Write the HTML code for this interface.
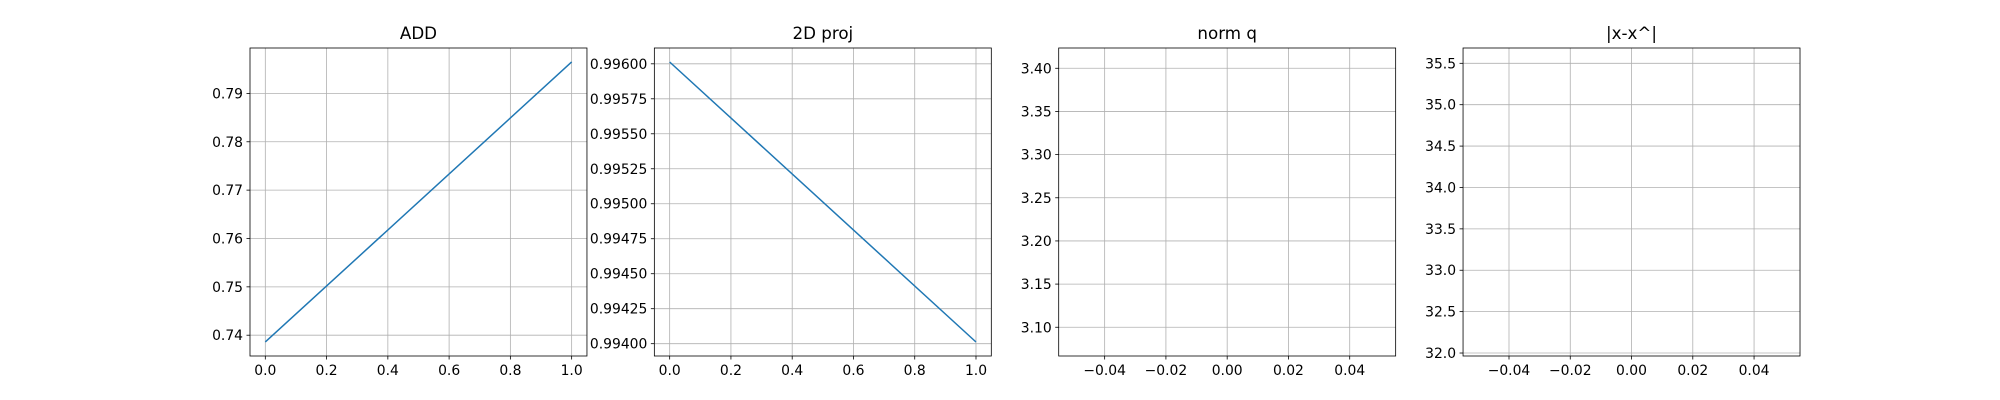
<!DOCTYPE html>
<html><head><meta charset="utf-8">
<style>
html,body{margin:0;padding:0;background:#fff;}
svg{display:block;font-family:"DejaVu Sans","Liberation Sans",sans-serif;}
</style></head>
<body>
<svg id="fig" width="2000" height="400" viewBox="0 0 2000 400" xmlns="http://www.w3.org/2000/svg"></svg>
<script>
// ---- data ----
const titles = ["ADD", "2D proj", "norm q", "|x-x^|"];
const addX = [0, 1];
const addY = [0.7386, 0.7965];
const projX = [0, 1];
const projY = [0.996013, 0.994012];
const normqX = [];
const normqY = [];
const errX = [];
const errY = [];
const xTicks0 = ["0.0","0.2","0.4","0.6","0.8","1.0"];
const xTicks0Vals = [0,0.2,0.4,0.6,0.8,1.0];
const yTicks0Vals = [0.74,0.75,0.76,0.77,0.78,0.79];
const yTicks0 = ["0.74","0.75","0.76","0.77","0.78","0.79"];
const yTicks1Vals = [0.994,0.99425,0.9945,0.99475,0.995,0.99525,0.9955,0.99575,0.996];
const yTicks1 = ["0.99400","0.99425","0.99450","0.99475","0.99500","0.99525","0.99550","0.99575","0.99600"];
const xTicksEmptyVals = [-0.04,-0.02,0,0.02,0.04];
const xTicksEmpty = ["\u22120.04","\u22120.02","0.00","0.02","0.04"];
const yTicks2Vals = [3.10,3.15,3.20,3.25,3.30,3.35,3.40];
const yTicks2 = ["3.10","3.15","3.20","3.25","3.30","3.35","3.40"];
const yTicks3Vals = [32.0,32.5,33.0,33.5,34.0,34.5,35.0,35.5];
const yTicks3 = ["32.0","32.5","33.0","33.5","34.0","34.5","35.0","35.5"];

const NS = "http://www.w3.org/2000/svg";
const svg = document.getElementById("fig");
function mk(tag, attrs, parent){
  const e = document.createElementNS(NS, tag);
  for (const k in attrs) e.setAttribute(k, attrs[k]);
  (parent||svg).appendChild(e);
  return e;
}
const top0 = 48, bot0 = 356, W = 336.96, gap = 67.39;
const panels = [
  {xs:addX, ys:addY, xmin:-0.05, xmax:1.05, ymin:0.7357, ymax:0.79939, xv:xTicks0Vals, xl:xTicks0, yv:yTicks0Vals, yl:yTicks0, name:"add"},
  {xs:projX, ys:projY, xmin:-0.05, xmax:1.05, ymin:0.993912, ymax:0.996113, xv:xTicks0Vals, xl:xTicks0, yv:yTicks1Vals, yl:yTicks1, name:"2d-proj"},
  {xs:normqX, ys:normqY, xmin:-0.055, xmax:0.055, ymin:3.0667, ymax:3.4235, xv:xTicksEmptyVals, xl:xTicksEmpty, yv:yTicks2Vals, yl:yTicks2, name:"norm-q"},
  {xs:errX, ys:errY, xmin:-0.055, xmax:0.055, ymin:31.964, ymax:35.685, xv:xTicksEmptyVals, xl:xTicksEmpty, yv:yTicks3Vals, yl:yTicks3, name:"x-error"}
];
panels.forEach((p,i)=>{
  const L = 250 + i*(W+gap), R = L+W;
  const sx = v => L + (v-p.xmin)/(p.xmax-p.xmin)*W;
  const sy = v => bot0 - (v-p.ymin)/(p.ymax-p.ymin)*(bot0-top0);
  const g = mk("g",{});
  
  
  p.xv.forEach((v,j)=>{
    const x = sx(v);
    const gl = mk("line",{x1:x,x2:x,y1:top0,y2:bot0,stroke:"#b0b0b0","stroke-width":0.8},g);
    
    
    mk("line",{x1:x,x2:x,y1:bot0,y2:bot0+3.5,stroke:"#000","stroke-width":0.8},g);
    const t = mk("text",{x:x,y:bot0+19,"text-anchor":"middle","font-size":"13.9px",fill:"#000"},g);
    t.textContent = p.xl[j];
    
    
  });
  p.yv.forEach((v,j)=>{
    const y = sy(v);
    const gl = mk("line",{x1:L,x2:R,y1:y,y2:y,stroke:"#b0b0b0","stroke-width":0.8},g);
    
    
    mk("line",{x1:L-3.5,x2:L,y1:y,y2:y,stroke:"#000","stroke-width":0.8},g);
    const t = mk("text",{x:L-7,y:y+5,"text-anchor":"end","font-size":"13.9px",fill:"#000"},g);
    t.textContent = p.yl[j];
    
    
  });
  if (p.xs.length){
    const pts = p.xs.map((x,k)=>sx(x)+","+sy(p.ys[k])).join(" ");
    const pl = mk("polyline",{points:pts,fill:"none",stroke:"#1f77b4","stroke-width":1.5},g);
    
    
  }
  const fr = mk("rect",{x:L,y:top0,width:W,height:bot0-top0,fill:"none",stroke:"#000","stroke-width":0.8},g);
  
  
  const tt = mk("text",{x:(L+R)/2,y:39,"text-anchor":"middle","font-size":"16.7px",fill:"#000"},g);
  tt.textContent = titles[i];
  
  
});
</script>
</body></html>
